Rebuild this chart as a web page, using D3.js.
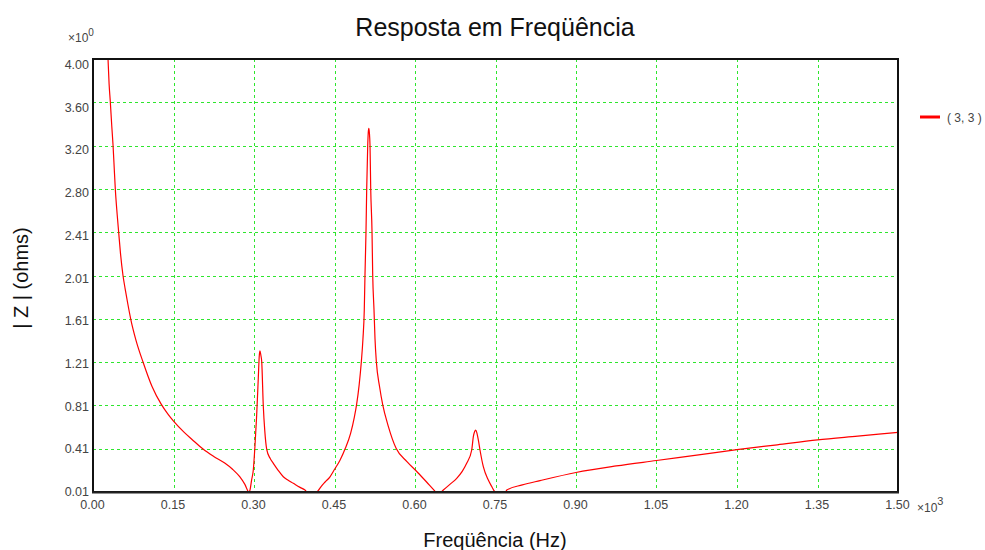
<!DOCTYPE html>
<html><head><meta charset="utf-8">
<script src="https://cdn.jsdelivr.net/npm/d3@7/dist/d3.min.js"></script>
<style>body{margin:0;background:#fff;}svg{display:block;font-family:"Liberation Sans",Arial,sans-serif;}</style>
</head><body>
<script>
// ---- data ----
const freqHz = [27.5,28,30,32.2,35,37.3,40,41.6,45,47.9,51,55.9,60,65,70.3,80,93.2,110,127.3,140,150.9,170,185,205,225,245.4,260,273.4,283,290.7,
  292.6,295.5,298.7,301.9,305,308,309.9,311.2,312.8,314.4,317.3,320,323.7,330,336,345,354.6,363,373.2,385,395,400,415,
  419,425,432,441.6,449,460,470,480,487,491,496,500,503,505.5,506.8,508.7,510,511.9,513,514,515,516.2,517.5,519.9,521.2,523.6,525.5,528,534,540,550,565,585,605,622,635,641,646,
  652.8,665,677.7,688,696.3,705.7,708.7,711,713.1,715.5,718,721.1,727.3,736.6,743,749,752,768,
  771,800,833,900,975,1050,1125,1200,1275,1350,1425,1500];
const impedance = [4.06,4.0,3.77,3.61,3.38,3.21,2.95,2.80,2.57,2.40,2.22,2.005,1.88,1.74,1.604,1.41,1.208,0.982,0.817,0.725,0.658,0.559,0.492,0.406,0.338,0.277,0.22,0.151,0.08,0.01,
  0.03,0.12,0.213,0.443,0.72,1.06,1.27,1.31,1.27,1.21,0.805,0.58,0.403,0.32,0.274,0.21,0.151,0.12,0.09,0.055,0.028,0.005,0.005,
  0.02,0.06,0.10,0.15,0.21,0.30,0.41,0.55,0.70,0.81,1.0,1.21,1.42,1.69,2.01,2.41,2.80,3.20,3.33,3.36,3.32,3.20,2.80,2.41,2.01,1.69,1.42,1.21,0.98,0.81,0.62,0.41,0.29,0.19,0.10,0.03,0.0,0.0,
  0.028,0.08,0.136,0.2,0.274,0.397,0.52,0.565,0.581,0.55,0.49,0.397,0.243,0.12,0.06,0.01,0.0,0.0,
  0.028,0.075,0.115,0.19,0.25,0.30,0.35,0.40,0.445,0.49,0.525,0.56];
const xTickValues = [0,150,300,450,600,750,900,1050,1200,1350,1500];
const xTickLabels = ["0.00","0.15","0.30","0.45","0.60","0.75","0.90","1.05","1.20","1.35","1.50"];
const yTickLabels = ["0.01","0.41","0.81","1.21","1.61","2.01","2.41","2.80","3.20","3.60","4.00"];
const seriesName = "( 3, 3 )";

// ---- layout ----
const W = 985, H = 550;
const L = 93, R = 898, T = 59, B = 492;
const svg = d3.select("body").append("svg").attr("width", W).attr("height", H);

const x = d3.scaleLinear().domain([0, 1500]).range([L, R]);
const y = d3.scaleLinear().domain([0.01, 4.00]).range([B, T]);
// tick labels of the y axis sit on a slightly tighter spacing than the grid
const yLabel = d3.scaleLinear().domain([0.01, 4.00]).range([491, 64]);
const yTickValues = yTickLabels.map((_, i) => 0.01 + i * (3.99 / 10));

// grid
const gridColor = "#2ee62e";
svg.append("g").selectAll("line").data(xTickValues.slice(1, -1)).join("line")
  .attr("x1", d => Math.round(x(d)) + 0.5).attr("x2", d => Math.round(x(d)) + 0.5)
  .attr("y1", T).attr("y2", B)
  .attr("stroke", gridColor).attr("stroke-width", 1).attr("stroke-dasharray", "3,3");
svg.append("g").selectAll("line").data(yTickValues.slice(1, -1)).join("line")
  .attr("y1", d => Math.round(y(d)) + 0.5).attr("y2", d => Math.round(y(d)) + 0.5)
  .attr("x1", L).attr("x2", R)
  .attr("stroke", gridColor).attr("stroke-width", 1).attr("stroke-dasharray", "3,3");

// clip
svg.append("clipPath").attr("id", "clip").append("rect")
  .attr("x", L).attr("y", T).attr("width", R - L).attr("height", B - T);

// curve
const pts = freqHz.map((f, i) => [f, impedance[i]]);
const line = d3.line().x(d => x(d[0])).y(d => y(d[1])).curve(d3.curveMonotoneX);
svg.append("path").datum(pts).attr("clip-path", "url(#clip)")
  .attr("d", line).attr("fill", "none").attr("stroke", "#ff0000").attr("stroke-width", 1.2);

// frame
svg.append("rect").attr("x", L).attr("y", T).attr("width", R - L).attr("height", B - T)
  .attr("fill", "none").attr("stroke", "#111").attr("stroke-width", 2);
svg.append("line").attr("x1", L - 1).attr("x2", R + 1).attr("y1", B + 0.5).attr("y2", B + 0.5)
  .attr("stroke", "#222").attr("stroke-width", 2);

// axes (labels only)
const tickColor = "#444";
const xAxis = d3.axisBottom(x).tickValues(xTickValues).tickFormat((d, i) => xTickLabels[i]).tickSize(0).tickPadding(8);
const gx = svg.append("g").attr("transform", `translate(0,${B})`).call(xAxis);
gx.select(".domain").remove();
gx.selectAll("text").attr("fill", tickColor).attr("font-size", 12.5).attr("dx", -1)
  .attr("font-family", "Liberation Sans, Arial, sans-serif");

const yAxis = d3.axisLeft(y).tickValues(yTickValues).tickFormat((d, i) => yTickLabels[i]).tickSize(0).tickPadding(4);
const gy = svg.append("g").attr("transform", `translate(${L},0)`).call(yAxis);
gy.select(".domain").remove();
gy.selectAll("text").attr("fill", tickColor).attr("font-size", 12.5)
  .attr("y", d => yLabel(d) - y(d)).attr("dy", "0.36em")
  .attr("font-family", "Liberation Sans, Arial, sans-serif");

// multipliers
const m0 = svg.append("text").attr("x", 68).attr("y", 42).attr("font-size", 12).attr("fill", tickColor);
m0.append("tspan").text("×10");
m0.append("tspan").attr("dy", -6).attr("font-size", 10).text("0");
const m3 = svg.append("text").attr("x", 917).attr("y", 512).attr("font-size", 12).attr("fill", tickColor);
m3.append("tspan").text("×10");
m3.append("tspan").attr("dy", -7).attr("font-size", 11).text("3");

// titles
svg.append("text").attr("x", 495).attr("y", 36).attr("text-anchor", "middle")
  .attr("font-size", 25).attr("fill", "#111").text("Resposta em Freqüência");
svg.append("text").attr("x", 495).attr("y", 547).attr("text-anchor", "middle")
  .attr("font-size", 20).attr("fill", "#111").text("Freqüência (Hz)");
svg.append("text").attr("transform", "translate(28,278) rotate(-90)").attr("text-anchor", "middle")
  .attr("font-size", 20).attr("fill", "#111").text("| Z | (ohms)");

// legend
svg.append("line").attr("x1", 920).attr("x2", 940).attr("y1", 117).attr("y2", 117)
  .attr("stroke", "#ff0000").attr("stroke-width", 3);
svg.append("text").attr("x", 947).attr("y", 122).attr("font-size", 12).attr("fill", tickColor).text(seriesName);
</script>
</body></html>
